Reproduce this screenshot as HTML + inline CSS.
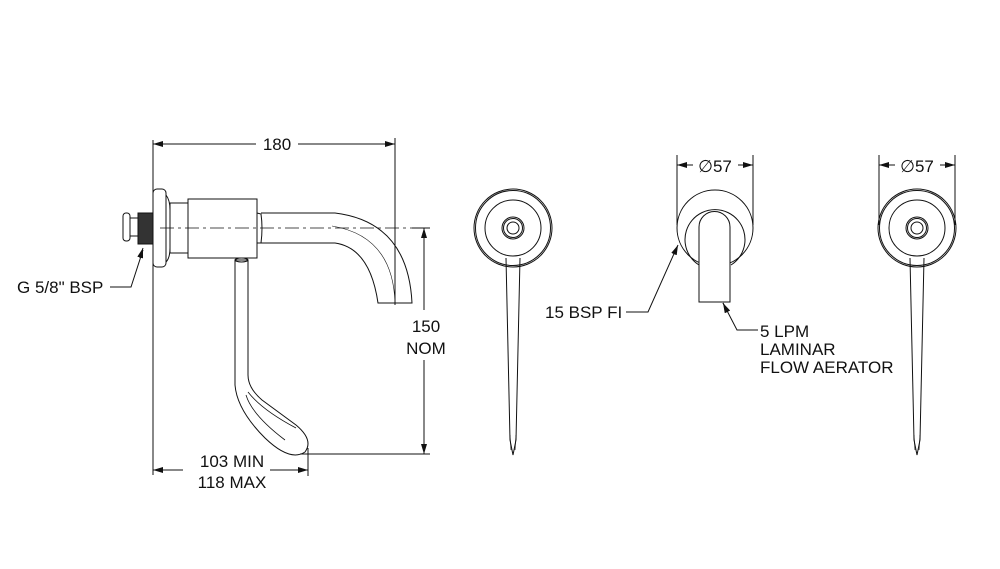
<!DOCTYPE html>
<html><head><meta charset="utf-8"><style>
html,body{margin:0;padding:0;background:#fff;}
svg{display:block;}
text{font-family:"Liberation Sans",sans-serif;font-size:17px;fill:#111;}
</style></head><body>
<svg width="1000" height="569" viewBox="0 0 1000 569" xmlns="http://www.w3.org/2000/svg">
<defs>
<marker id="a" viewBox="0 0 10 6" refX="10" refY="3" markerWidth="10" markerHeight="6" orient="auto-start-reverse" markerUnits="userSpaceOnUse"><path d="M0,0 L10,3 L0,6 z" fill="#111"/></marker>
</defs>
<g fill="none" stroke="#111" stroke-width="1">
<line x1="153" y1="140" x2="153" y2="475"/>
<line x1="395" y1="138" x2="395" y2="305"/>
<line x1="153" y1="144" x2="256" y2="144" marker-start="url(#a)"/>
<line x1="298" y1="144" x2="395" y2="144" marker-end="url(#a)"/>
<line x1="160" y1="228" x2="430" y2="228" stroke-dasharray="14,4,3,4" stroke-width="0.8"/>
<line x1="412" y1="228" x2="430" y2="228"/>
<line x1="300" y1="454" x2="430" y2="454"/>
<line x1="424" y1="228" x2="424" y2="310" marker-start="url(#a)"/>
<line x1="424" y1="360" x2="424" y2="454" marker-end="url(#a)"/>
<line x1="308" y1="448" x2="308" y2="476"/>
<line x1="153" y1="470" x2="183" y2="470" marker-start="url(#a)"/>
<line x1="270" y1="470" x2="308" y2="470" marker-end="url(#a)"/>
<rect x="153" y="189" width="13" height="78" rx="4"/>
<path d="M166,195 Q170,200 170,210 L170,248 Q170,258 166,262"/>
<rect x="170" y="203" width="18" height="50"/>
<rect x="188" y="199" width="69" height="59"/>
<path d="M257,213 L261,214 Q263,228 261,243 L257,243"/>
<path d="M261,213 L335,213 Q408,222 412,303 L378,303 Q370,248 335,243 L261,243"/>
<path d="M332,226 Q393,236 395,303" stroke-width="0.6"/>
<rect x="123" y="213" width="7" height="28" rx="3"/>
<rect x="130" y="218" width="8" height="18"/>
<rect x="138" y="213" width="15" height="31" fill="#333"/>
<path d="M235,260 L235,385 Q237,410 265,438 Q290,462 305,452 Q314,440 296,425 L262,400 Q248,388 248,375 L248,260 Z"/>
<path d="M246,395 Q252,415 285,440 M248,392 Q262,410 296,428" stroke-width="0.8"/>
<ellipse cx="241.5" cy="260" rx="6.5" ry="2"/>
<polyline points="110,287 131,287 143,250"/>
<line x1="140" y1="258" x2="143" y2="248" marker-end="url(#a)"/>
<circle cx="513" cy="228" r="39"/><circle cx="513" cy="228" r="37.5"/>
<circle cx="513" cy="228" r="28"/>
<circle cx="513" cy="228" r="11"/><circle cx="513" cy="228" r="9.5"/><circle cx="513" cy="228" r="6"/>
<path d="M506,258 L510,440 L513,455 L516,440 L520,258"/>
<path d="M510,435 L511,450 M516,435 L515,450" stroke-width="0.7"/>
<circle cx="917" cy="228" r="39"/><circle cx="917" cy="228" r="37.5"/>
<circle cx="917" cy="228" r="28"/>
<circle cx="917" cy="228" r="11"/><circle cx="917" cy="228" r="9.5"/><circle cx="917" cy="228" r="6"/>
<path d="M910,258 L914,440 L917,455 L920,440 L924,258"/>
<path d="M914,435 L915,450 M920,435 L919,450" stroke-width="0.7"/>
<circle cx="715" cy="228" r="38"/>
<path d="M699,265 A30,30 0 1 1 731,265" />
<path d="M699,302 L699,227 A15.5,15.5 0 0 1 730,227 L730,302 Z" fill="#fff"/>
<line x1="677" y1="155" x2="677" y2="225"/>
<line x1="753" y1="155" x2="753" y2="225"/>
<line x1="677" y1="165" x2="693" y2="165" marker-start="url(#a)"/>
<line x1="738" y1="165" x2="753" y2="165" marker-end="url(#a)"/>
<line x1="879" y1="155" x2="879" y2="225"/>
<line x1="955" y1="155" x2="955" y2="225"/>
<line x1="879" y1="165" x2="895" y2="165" marker-start="url(#a)"/>
<line x1="940" y1="165" x2="955" y2="165" marker-end="url(#a)"/>
<polyline points="626,312 648,312 677,247"/>
<line x1="674" y1="254" x2="678" y2="245" marker-end="url(#a)"/>
<polyline points="758,330 737,330 723,303"/>
<line x1="727" y1="311" x2="723" y2="303" marker-end="url(#a)"/>
</g>
<text x="277" y="150" text-anchor="middle">180</text>
<text x="17" y="293">G 5/8" BSP</text>
<text x="426" y="332" text-anchor="middle">150</text>
<text x="426" y="354" text-anchor="middle">NOM</text>
<text x="232" y="467" text-anchor="middle">103 MIN</text>
<text x="232" y="488" text-anchor="middle">118 MAX</text>
<text x="715" y="172" text-anchor="middle">∅57</text>
<text x="917" y="172" text-anchor="middle">∅57</text>
<text x="545" y="318">15 BSP FI</text>
<text x="760" y="337">5 LPM</text>
<text x="760" y="355">LAMINAR</text>
<text x="760" y="373">FLOW AERATOR</text>
</svg>
</body></html>
